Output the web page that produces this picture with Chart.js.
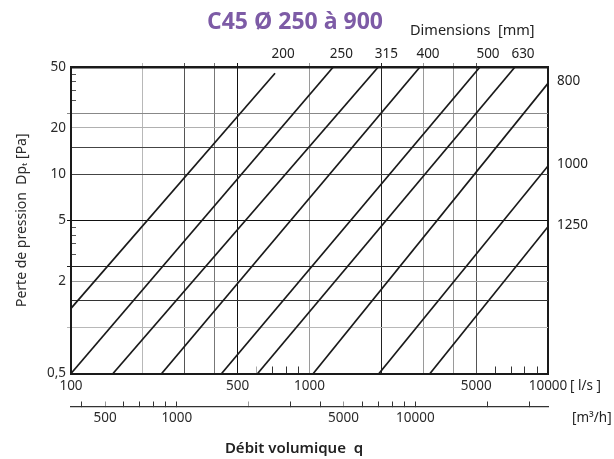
<!DOCTYPE html>
<html>
<head>
<meta charset="utf-8">
<script src="https://cdn.jsdelivr.net/npm/chart.js@4.4.0/dist/chart.umd.min.js"></script>
<style>
  html, body { margin: 0; padding: 0; background: #fff; }
  #wrap { width: 614px; height: 459px; }
</style>
</head>
<body>
<div id="wrap"><canvas id="chart"></canvas></div>
<script>
// one straight line per duct diameter (mm)
const dims    = ['200', '250', '315', '400', '500', '630', '800', '1000', '1250'];
const qStart  = [100, 100, 150, 240, 428, 606, 1037, 1956, 3201];      // l/s
const dpStart = [1.33, 0.5, 0.5, 0.5, 0.5, 0.5, 0.5, 0.5, 0.5];        // Pa
const qEnd    = [717, 1258, 1943, 2906, 5187, 7272, 10000, 10000, 10000];
const dpEnd   = [45.5, 50, 50, 50, 50, 50, 39.1, 11.3, 4.54];

const qGrid     = [100, 200, 300, 400, 500, 1000, 2000, 3000, 4000, 5000, 10000];
const qLabels   = [100, 500, 1000, 5000, 10000];
const qMinor    = [600, 700, 800, 900, 6000, 7000, 8000, 9000];
const m3hTicks  = [400, 500, 600, 700, 800, 900, 1000, 2000, 3000, 4000, 5000,
                   6000, 7000, 8000, 9000, 10000, 20000, 30000];
const m3hLabels = [500, 1000, 5000, 10000];
const dpGrid    = [0.5, 1, 1.5, 2, 2.5, 5, 10, 15, 20, 25, 50];
const dpLabels  = [0.5, 2, 5, 10, 20, 50];
const dpMinor   = [3, 3.5, 4, 4.5, 30, 35, 40, 45];

// grid line shades
const qTone  = { 200: '#b8b8b8', 300: '#555', 400: '#777', 500: '#111', 1000: '#9a9a9a',
                 2000: '#222', 3000: '#9a9a9a', 4000: '#9a9a9a', 5000: '#555', 10000: '#1a1a1a' };
const dpTone = { 1: '#b8b8b8', 1.5: '#333', 2: '#9a9a9a', 2.5: '#222', 5: '#111',
                 10: '#444', 15: '#444', 20: '#b0b0b0', 25: '#888' };
const dpOutTicks = [1, 2.5, 5, 25];

Chart.defaults.font.family = '"Noto Sans", "DejaVu Sans", sans-serif';
Chart.defaults.font.size = 13.5;
Chart.defaults.color = '#2a2a2a';

const fixTicks = vals => scale => { scale.ticks = vals.map(v => ({ value: v })); };

const annotate = {
  id: 'annotate',
  afterDraw(chart) {
    const { ctx, chartArea: a, scales: { x, y } } = chart;
    ctx.save();
    ctx.textBaseline = 'middle';

    ctx.fillStyle = '#7d5ba6';
    ctx.font = 'bold 23px "Open Sans", sans-serif';
    ctx.textAlign = 'center';
    ctx.fillText('C45 Ø 250 à 900', 295, 22);

    ctx.fillStyle = '#222';
    ctx.font = '14.5px "Noto Sans", sans-serif';
    ctx.textAlign = 'left';
    ctx.fillText('Dimensions  [mm]', 410, 31);

    ctx.font = '13.5px "Noto Sans", sans-serif';
    dims.forEach((d, i) => {
      const px = x.getPixelForValue(qEnd[i]);
      const py = y.getPixelForValue(dpEnd[i]);
      if (qEnd[i] < 10000) {
        ctx.textAlign = 'center';
        ctx.fillText(d, px + 8, a.top - 13);
      } else {
        ctx.textAlign = 'left';
        ctx.fillText(d, a.right + 9, py - 2);
      }
    });

    ctx.textAlign = 'left';
    ctx.fillText('[ l/s ]', 570, 386);
    ctx.fillText('[m³/h]', 572, 418);

    ctx.textAlign = 'center';
    ctx.font = '600 15px "Noto Sans", sans-serif';
    ctx.fillText('Débit volumique  q', 294, 449);
    ctx.restore();
  }
};

new Chart(document.getElementById('chart'), {
  type: 'scatter',
  data: {
    datasets: dims.map((d, i) => ({
      label: d,
      data: [{ x: qStart[i], y: dpStart[i] }, { x: qEnd[i], y: dpEnd[i] }],
      showLine: true,
      borderColor: '#1a1a1a',
      borderWidth: 1.7,
      pointRadius: 0,
      fill: false,
    })),
  },
  options: {
    responsive: true,
    maintainAspectRatio: false,
    animation: false,
    devicePixelRatio: 1,
    layout: { padding: { top: 63, right: 66, bottom: 0, left: 0 } },
    plugins: { legend: { display: false }, tooltip: { enabled: false } },
    scales: {
      x: {
        type: 'logarithmic', position: 'bottom', weight: 1, min: 100, max: 10000,
        afterBuildTicks: fixTicks(qGrid),
        afterFit: s => { s.height = 33; },
        grid: {
          color: c => qTone[c.tick.value] || 'transparent',
          lineWidth: c => c.tick.value === 10000 ? 2 : 1,
          drawTicks: false,
        },
        border: { color: '#1a1a1a', width: 2 },
        ticks: {
          padding: 5, autoSkip: false, maxRotation: 0,
          callback: v => qLabels.includes(v) ? String(v) : '',
        },
      },
      x2: {
        type: 'logarithmic', position: 'bottom', weight: 2, min: 360, max: 36000,
        afterBuildTicks: fixTicks(m3hTicks),
        afterFit: s => { s.height = 52.5; },
        grid: {
          drawOnChartArea: false, tickLength: -5,
          tickColor: c => [500, 2000, 5000].includes(c.tick.value) ? '#999' : '#333',
        },
        border: { color: '#333', width: 1.2 },
        ticks: {
          padding: 8.5, autoSkip: false, maxRotation: 0,
          callback: v => m3hLabels.includes(v) ? String(v) : '',
        },
      },
      x3: {
        type: 'logarithmic', position: 'bottom', weight: 0, min: 100, max: 10000,
        afterBuildTicks: fixTicks(qMinor),
        afterFit: s => { s.height = 0; },
        grid: { drawOnChartArea: false, tickLength: -7,
                tickColor: c => c.tick.value === 600 ? '#aaa' : '#333' },
        border: { display: false },
        ticks: { display: false },
      },
      x4: {
        type: 'logarithmic', position: 'top', min: 100, max: 10000,
        afterBuildTicks: fixTicks(qGrid.slice(1, -1)),
        afterFit: s => { s.height = 4; },
        grid: { drawOnChartArea: false, tickLength: 4,
                tickColor: c => qTone[c.tick.value] || 'transparent' },
        border: { color: '#1a1a1a', width: 2.5 },
        ticks: { display: false },
      },
      y: {
        type: 'logarithmic', position: 'left', weight: 1, min: 0.5, max: 50,
        afterBuildTicks: fixTicks(dpGrid),
        afterFit: s => { s.width = 71; },
        grid: {
          color: c => dpTone[c.tick.value] || 'transparent',
          tickLength: 4,
          tickColor: c => dpOutTicks.includes(c.tick.value) ? dpTone[c.tick.value] : 'transparent',
        },
        border: { color: '#1a1a1a', width: 2 },
        ticks: {
          padding: 1, autoSkip: false,
          callback: v => dpLabels.includes(v) ? String(v).replace('.', ',') : '',
        },
        title: {
          display: true, text: 'Perte de pression  Dpₜ [Pa]',
          padding: { top: 14, bottom: 0 }, font: { size: 14 }, color: '#2a2a2a',
        },
      },
      y3: {
        type: 'logarithmic', position: 'left', weight: 0, min: 0.5, max: 50,
        afterBuildTicks: fixTicks(dpMinor),
        afterFit: s => { s.width = 0; },
        grid: { drawOnChartArea: false, tickLength: -5, tickColor: '#555' },
        border: { display: false },
        ticks: { display: false },
      },
    },
  },
  plugins: [annotate],
});
</script>
</body>
</html>
